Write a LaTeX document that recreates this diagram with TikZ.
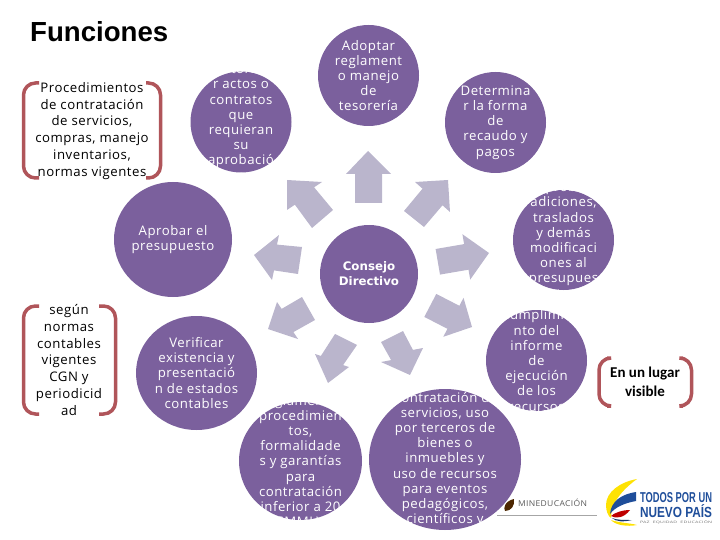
\documentclass[tikz,border=0pt]{standalone}
\usepackage{fontspec}
\setmainfont[LetterSpace=4]{Open Sans}
\newfontfamily\titlefont{Liberation Sans}
\newfontfamily\centerfont{DejaVu Sans}
\newfontfamily\visiblefont{Carlito}
\usetikzlibrary{shapes}
\definecolor{morado}{HTML}{7B609D}
\definecolor{lila}{HTML}{BAB5CC}
\definecolor{corchete}{HTML}{B0555A}
\definecolor{azulpais}{HTML}{1F4E9A}
\tikzset{bubble/.style={ellipse,fill=morado,inner sep=0pt},
 bubbletext/.style={white,align=center,inner sep=0pt,font=\fontsize{13.2}{15.2}\selectfont},
 blacktext/.style={black,align=center,inner sep=0pt,font=\fontsize{13.2}{16.9}\selectfont},
 flecha/.style={fill=lila},
 corchete/.style={draw=corchete,line width=3.5pt,rounded corners=12pt},
 }
\begin{document}
\begin{tikzpicture}[x=1pt,y=-1pt]
        \useasboundingbox (0,0) rectangle (720,540);
        \node[anchor=west,inner sep=0pt,font=\titlefont\bfseries\fontsize{27.6}{30}\selectfont] (titulo) at (30,32) {Funciones};

        \fill[flecha] (355,203) -- (355,174) -- (346,174) -- (368,151) -- (391,174) -- (382,174) -- (382,203) -- cycle;
        \fill[flecha] (404,211) -- (422.5,188.7) -- (415,182) -- (448,180) -- (450,212) -- (442.5,205.3) -- (424,227) -- cycle;
        \fill[flecha] (435.6,249) -- (464.1,244.1) -- (462.4,234.2) -- (489,253) -- (470.2,279.6) -- (468.5,269.7) -- (440,274.6) -- cycle;
        \fill[flecha] (436.3,293.9) -- (459.4,305.8) -- (463.5,297.8) -- (472,327) -- (443.3,336.8) -- (447.4,328.8) -- (424.3,316.9) -- cycle;
        \fill[flecha] (381,342) -- (403,331) -- (412.9,349.9) -- (423,348) -- (410,375) -- (381,362) -- (391.1,360.1) -- cycle;
        \fill[flecha] (335,334) -- (357,345) -- (343.1,365.1) -- (349,367) -- (328,383) -- (315,354) -- (320.9,355.9) -- cycle;
        \fill[flecha] (302,297) -- (315,320) -- (293.4,332.1) -- (298,339) -- (268,329) -- (277,302) -- (281.6,308.9) -- cycle;
        \fill[flecha] (302,247) -- (277,244.6) -- (279,235) -- (254,255) -- (272,280) -- (274,270.4) -- (298,274) -- cycle;
        \fill[flecha] (333,210) -- (314.1,187.3) -- (322,182) -- (287,180) -- (287,210) -- (294.9,204.7) -- (312,228) -- cycle;

        \node[bubble,minimum width=98pt,minimum height=98pt] (consejo) at (369,274) {};
        \node[bubble,minimum width=101pt,minimum height=101pt] (adoptar) at (368.5,75.5) {};
        \node[bubble,minimum width=101pt,minimum height=101pt] (determinar) at (495.5,122.5) {};
        \node[bubble,minimum width=101pt,minimum height=100pt] (adiciones) at (563.5,240) {};
        \node[bubble,minimum width=101pt,minimum height=101pt] (cumplimiento) at (536.5,360.5) {};
        \node[bubble,minimum width=123pt,minimum height=118pt] (procedimientos) at (300.5,461) {};
        \node[bubble,minimum width=152pt,minimum height=141pt] (contratacion) at (445,459.5) {};
        \node[bubble,minimum width=121pt,minimum height=114pt] (verificar) at (196.5,373) {};
        \node[bubble,minimum width=118pt,minimum height=115pt] (aprobar) at (173,239.5) {};
        \node[bubble,minimum width=101pt,minimum height=101pt] (autorizar) at (241,122) {};

        \node[bubbletext,font=\centerfont\bfseries\fontsize{11.8}{15.2}\selectfont] at (consejo) {Consejo\\Directivo};
        \node[bubbletext] at (adoptar) {Adoptar\\reglament\\o manejo\\de\\tesorería};
        \node[bubbletext] at (determinar) {Determina\\r la forma\\de\\recaudo y\\pagos};
        \node[bubbletext] at (adiciones) {Aprobar\\adiciones,\\traslados\\y demás\\modificaci\\ones al\\presupues\\to};
        \node[bubbletext] at (cumplimiento) {Cumplimie\\nto del\\informe\\de\\ejecución\\de los\\recursos};
        \node[bubbletext] at (procedimientos) {Reglamentar\\procedimien\\tos,\\formalidade\\s y garantías\\para\\contratación\\inferior a 20\\SMMLV};
        \node[bubbletext] at (contratacion) {Contratación de\\servicios, uso\\por terceros de\\bienes o\\inmuebles y\\uso de recursos\\para eventos\\pedagógicos,\\científicos y};
        \node[bubbletext] at (verificar) {Verificar\\existencia y\\presentació\\n de estados\\contables};
        \node[bubbletext] at (aprobar) {Aprobar el\\presupuesto};
        \node[bubbletext] at (autorizar) {Autoriza\\r actos o\\contratos\\que\\requieran\\su\\aprobació\\n};

        \node[blacktext] (normas) at (92,131) {Procedimientos\\de contratación\\de servicios,\\compras, manejo\\inventarios,\\normas vigentes};
        \node[blacktext] (contables) at (69,360) {según\\normas\\contables\\vigentes\\CGN y\\periodicid\\ad};
        \node[blacktext,font=\visiblefont\bfseries\fontsize{15}{19}\selectfont] (lugar) at (645,382) {En un lugar\\visible};

        \draw[corchete] (39,83) -- (23.5,83) -- (23.5,178) -- (39,178);
        \draw[corchete] (146,83) -- (160.5,83) -- (160.5,178) -- (146,178);
        \draw[corchete] (39,306) -- (23.5,306) -- (23.5,414) -- (39,414);
        \draw[corchete] (99,306) -- (115.5,306) -- (115.5,414) -- (99,414);
        \draw[corchete] (607,358) -- (599,358) -- (599,406) -- (607,406);
        \draw[corchete] (683,358) -- (691.5,358) -- (691.5,406) -- (683,406);

        \draw[gray!70,line width=.6pt] (497,515) -- (597,515);
        \fill[black!70!orange] (514,499) .. controls (505,501) and (503,508) .. (505,511) .. controls (511,511) and (515,506) .. (514,499) -- cycle;
        \node[inner sep=0pt,text=black!65] (mineducacion) at (552.5,503) {\resizebox{69pt}{7.5pt}{MINEDUCACIÓN}};

        \fill[yellow!85!orange] (637,479) .. controls (620,482) and (606,492) .. (606,505) .. controls (606,511) and (608,516) .. (611,518) .. controls (611,503) and (622,490) .. (637,479) -- cycle;
        \fill[azulpais] (636,492) .. controls (622,494) and (611,501) .. (610,514) .. controls (615,507) and (625,503) .. (636,501) -- cycle;
        \fill[red!75!black] (630,510) .. controls (622,510) and (614,513) .. (611,516) .. controls (616,519) and (624,518) .. (630,510) -- cycle;
        \fill[azulpais!70!black] (612,518) .. controls (616,520) and (624,520) .. (632,520) .. controls (624,522) and (616,522) .. (612,518) -- cycle;
        \fill[yellow!85!orange] (611,520) .. controls (615,525) and (627,527) .. (637,525) .. controls (630,523) and (620,523) .. (611,520) -- cycle;

        \node[inner sep=0pt,text=azulpais] (todos) at (676,498) {\resizebox{72pt}{10pt}{\titlefont\bfseries TODOS POR UN}};
        \node[inner sep=0pt,text=azulpais] (nuevo) at (676,511) {\resizebox{72pt}{13pt}{\titlefont\bfseries NUEVO PAÍS}};
        \node[inner sep=0pt,text=black!55] (paz) at (676,522.5) {\resizebox{72pt}{3pt}{PAZ \ EQUIDAD \ EDUCACIÓN}};
    \end{tikzpicture}
\end{document}
